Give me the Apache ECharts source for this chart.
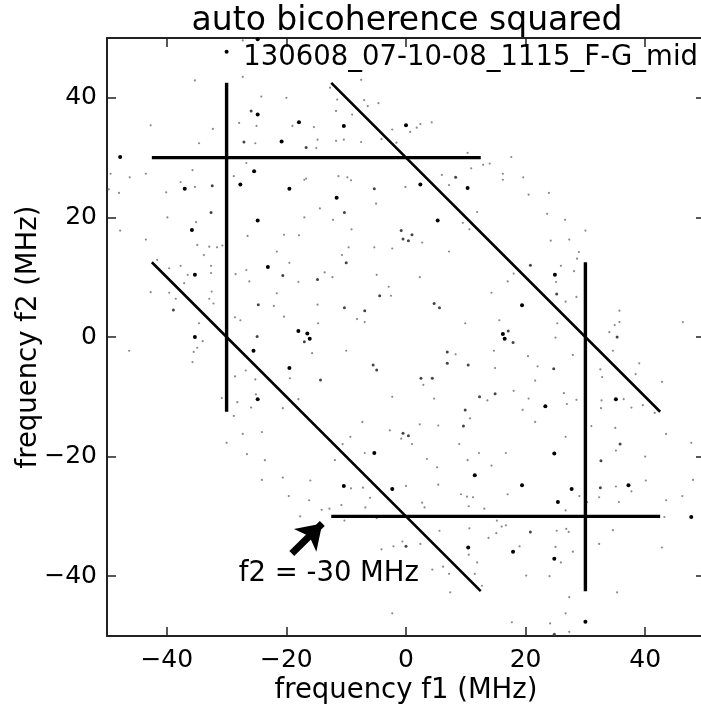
<!DOCTYPE html>
<html>
<head>
<meta charset="utf-8">
<title>auto bicoherence squared</title>
<script src="https://cdn.jsdelivr.net/npm/echarts@6/dist/echarts.min.js"></script>
<style>
  html, body { margin: 0; padding: 0; background: #fff; }
  #chart { width: 701px; height: 705px; }
</style>
</head>
<body>
<div id="chart"></div>
<script>
// ---- data (f1, f2 in MHz) ----
const titleText = 'auto bicoherence squared';
const runLabel = '130608_07-10-08_1115_F-G_mid';
const tickValues = [-40, -20, 0, 20, 40];

// the six ridge segments: endpoints in f1 and in f2
const ridgeF1 = [[-42.5, 12.5], [-30, -30], [-12.5, 42.5], [-42.5, 12.5], [30, 30], [-12.5, 42.5]];
const ridgeF2 = [[30, 30], [42.5, -12.5], [42.5, -12.5], [12.5, -42.5], [12.5, -42.5], [-30, -30]];

// scattered bicoherence points, by strength
const bigDots = [
  [-30.0, 47.7], [-24.8, 37.2], [-17.9, 35.9], [-20.8, 32.7], [-47.8, 30.1], [-37.0, 24.8], [-27.7, 25.5],
  [-25.4, 27.7], [-19.5, 24.8], [-24.8, 19.5], [-35.8, 17.9], [-10.4, 35.3], [0.0, 35.4], [10.3, 24.9],
  [2.4, 25.5], [-11.6, 23.3], [5.3, 19.5], [-35.3, 10.4], [-35.3, 0.0], [-23.1, 11.7], [-18.0, 1.0],
  [-25.5, -2.3], [-19.5, -5.2], [-24.8, -10.4], [-16.5, 0.6], [-16.1, -0.3], [16.2, 0.5], [16.5, -0.3],
  [24.9, 10.4], [19.4, 5.3], [23.3, -11.6], [35.1, -10.4], [-5.3, -19.4], [-10.4, -24.9], [-2.3, -25.4],
  [11.5, -23.1], [10.4, -35.2], [24.8, -19.5], [19.4, -24.8], [27.7, -25.4], [37.2, -24.8], [25.4, -27.6],
  [47.7, -30.1], [17.9, -35.9], [24.8, -37.1], [30.0, -47.6], [-24.8, 49.8]
];
const midDots = [
  [-25.9, 37.8], [-27.1, 32.6], [-32.4, 25.3], [-32.6, 20.8], [-16.7, 31.7], [8.3, 26.7], [-5.3, 24.8],
  [-10.3, 20.8], [-0.8, 17.8], [1.0, 17.1], [-38.9, 4.5], [-24.7, 5.4], [-20.6, 10.3], [-17.0, -0.8],
  [-24.9, 0.1], [-0.5, 16.4], [0.4, 16.1], [-10.0, 12.4], [-14.8, 9.6], [-4.4, 6.9], [-10.3, 4.9],
  [-6.9, 4.4], [4.7, 5.6], [5.6, 4.9], [6.9, -2.5], [-5.5, -4.7], [-4.9, -5.5], [6.9, -4.4], [10.4, -4.7],
  [-14.3, -7.2], [2.5, -6.9], [4.4, -6.9], [12.3, -10.0], [14.9, -9.5], [9.9, -12.2], [9.6, -14.9],
  [-0.5, -16.1], [0.4, -16.5], [20.8, 12.0], [25.2, 7.2], [35.3, 0.0], [17.1, 1.0], [17.9, -0.9],
  [24.7, -5.3], [0.0, -35.0], [35.8, -17.9], [32.6, -20.7], [32.5, -25.2], [20.8, -32.6], [24.8, -49.7]
];
const smallDots = [
  [-35.3, 42.9], [-27.3, 43.5], [-24.2, 40.2], [-20.0, 40.0], [-27.9, 35.8], [-25.0, 35.3], [-42.7, 35.4],
  [-32.3, 34.8], [-19.0, 35.3], [-34.6, 32.4], [-25.2, 32.4], [-49.4, 27.3], [-46.2, 26.7], [-43.5, 27.3],
  [-35.7, 27.9], [-28.8, 26.9], [-26.7, 29.1], [-17.0, 26.3], [-48.0, 24.1], [-40.1, 24.2], [-39.9, 20.0],
  [-35.1, 19.2], [-47.8, 17.8], [-26.5, 16.9], [-20.4, 17.1], [-17.0, 20.0], [-17.9, 17.0], [-27.3, 49.6],
  [-35.3, 25.1], [-37.7, 25.9], [-49.7, 24.7],
  [-7.5, 43.0], [-12.7, 41.7], [-11.5, 39.7], [-7.0, 39.6], [-4.6, 39.1], [-6.4, 38.6], [-11.7, 37.8],
  [-9.0, 37.2], [-15.4, 35.1], [2.4, 35.6], [4.3, 35.9], [1.8, 35.0], [0.7, 34.3], [-2.3, 34.7],
  [-14.8, 33.0], [-15.0, 31.6], [-11.7, 32.8], [-7.5, 32.6], [-4.1, 33.1], [-1.6, 32.5], [-10.4, 33.0],
  [10.3, 30.8], [12.9, 28.8], [14.0, 29.0], [10.9, 28.2], [16.2, 27.3], [6.0, 27.1], [7.2, 25.4],
  [-0.1, 25.1], [-11.3, 26.9], [-9.2, 26.2], [-9.8, 26.7], [-16.7, 26.5], [-5.0, 22.3], [-14.4, 21.5],
  [-12.2, 19.6], [11.9, 20.9], [9.5, 19.1], [10.6, 18.0], [-9.1, 18.0], [16.2, 26.3],
  [17.6, 30.1], [19.6, 26.7], [20.5, 23.8], [23.9, 24.1], [23.6, 20.6], [26.6, 19.6], [30.0, 17.8],
  [-43.5, 16.3], [-34.9, 15.4], [-32.9, 15.1], [-31.6, 15.0], [-30.7, 15.3], [-33.8, 13.7], [-41.6, 12.9],
  [-39.6, 11.5], [-37.7, 11.9], [-36.5, 10.4], [-32.6, 11.9], [-32.6, 10.7], [-37.1, 9.0], [-42.7, 7.5],
  [-39.6, 7.4], [-38.5, 6.4], [-32.5, 7.6], [-32.9, 6.4], [-32.2, 5.6], [-34.6, 2.3], [-34.0, -0.7],
  [-46.3, -2.3], [-34.9, -1.8], [-35.5, -2.5], [-35.7, -4.2], [-28.6, 3.3], [-27.7, 2.8], [-28.5, 10.5],
  [-26.7, 11.2], [-26.2, 9.3], [-21.6, 14.3], [-19.5, 12.4], [-18.0, 9.2], [-21.6, 7.3], [-22.1, 5.2],
  [-20.4, 3.4], [-26.8, -5.6], [-28.6, -6.6], [-25.2, -7.1], [-19.4, -6.9], [-25.1, -9.6], [-30.8, -10.2],
  [-28.2, -10.9], [-25.9, -11.8], [-20.6, -11.9], [-18.0, -10.4], [-28.8, -13.2], [-27.3, -16.2], [-24.1, -15.9],
  [-9.6, 15.0], [-5.3, 15.0], [-2.3, 14.8], [2.7, 15.8], [7.2, 14.3], [-10.7, 13.7], [-13.6, 10.8],
  [-12.3, 10.0], [-4.9, 10.4], [2.3, 10.0], [-2.9, 8.4], [-2.5, 6.9], [14.3, 7.4], [-14.8, 5.4],
  [-8.2, 3.0], [-6.9, 2.5], [-14.7, 2.3], [9.9, 2.3], [15.6, 2.8], [-15.7, -2.7], [-10.0, -2.3],
  [8.3, -2.9], [14.7, -2.3], [14.9, -5.2], [2.9, -8.0], [-2.3, -10.0], [4.7, -10.3], [13.6, -10.6],
  [10.7, -13.6], [-7.3, -14.2], [2.3, -14.6], [5.4, -14.8], [-2.7, -15.6], [-9.3, -16.7],
  [24.2, 16.1], [27.3, 16.3], [28.9, 14.2], [28.6, 13.1], [25.9, 11.9], [28.1, 11.0], [18.0, 10.6],
  [25.1, 9.2], [17.0, 9.3], [28.5, 6.7], [26.7, 5.9], [35.7, 4.4], [35.7, 2.5], [34.9, 2.0], [34.0, 0.8],
  [46.3, 2.5], [25.3, 2.3], [25.0, -0.1], [27.9, -3.0], [34.6, -2.3], [20.4, -3.2], [22.0, -4.9],
  [32.5, -5.4], [32.8, -6.7], [39.0, -4.4], [38.4, -6.2], [42.8, -7.5], [21.6, -7.3], [18.0, -9.0],
  [26.4, -9.4], [20.5, -10.3], [28.5, -10.5], [26.9, -11.2], [32.7, -10.6], [36.4, -10.4], [32.6, -11.9],
  [37.7, -11.8], [39.6, -11.4], [41.6, -12.7], [19.5, -12.2], [21.6, -14.2], [31.0, -14.9], [35.0, -15.2],
  [43.5, -16.2], [26.7, -16.7],
  [-30.0, -17.7], [-26.6, -19.6], [-23.6, -20.6], [-24.1, -23.9], [-20.6, -23.5], [-19.6, -26.6], [-17.7, -30.0],
  [-10.6, -17.9], [-0.8, -17.0], [1.0, -17.9], [-6.9, -19.4], [-11.9, -20.6], [-16.0, -24.0], [-9.2, -25.3],
  [-7.2, -25.2], [0.0, -24.9], [-6.0, -26.9], [-10.8, -28.1], [-16.2, -27.3], [-12.8, -28.7], [-14.1, -28.9],
  [-6.8, -28.5], [2.7, -27.7], [3.1, -28.5], [5.2, -21.8], [3.5, -20.4], [8.9, -17.9], [12.2, -19.4],
  [10.3, -20.6], [14.3, -21.5], [5.4, -24.7], [9.2, -26.3], [10.2, -26.7], [11.2, -26.8], [10.5, -28.3],
  [13.1, -28.7], [15.2, -30.7], [16.0, -31.7], [15.1, -32.8], [13.8, -33.6], [-10.3, -30.7], [-4.9, -30.3],
  [5.6, -32.4], [10.6, -32.0], [-2.1, -35.0], [-0.6, -34.2], [-4.1, -35.5], [2.4, -34.6], [10.5, -36.4],
  [11.9, -37.7], [4.4, -38.9], [6.2, -38.4], [7.2, -39.6], [11.5, -39.6], [12.7, -41.6], [7.4, -42.7],
  [-2.3, -46.2],
  [35.1, -19.0], [47.7, -17.7], [16.7, -19.4], [40.0, -20.0], [40.1, -24.0], [48.0, -23.9], [35.1, -25.0],
  [37.7, -25.8], [17.0, -26.3], [29.0, -26.6], [32.3, -26.8], [35.6, -27.6], [43.5, -27.3], [46.2, -26.6],
  [30.3, -27.6], [26.7, -29.0], [43.2, -30.1], [25.2, -32.4], [26.8, -32.1], [27.2, -32.6], [34.6, -32.3],
  [16.7, -31.5], [32.3, -34.6], [19.0, -35.0], [25.0, -35.1], [27.9, -35.9], [42.8, -35.2], [25.9, -37.7],
  [20.1, -39.9], [24.0, -40.0], [35.3, -42.7], [27.3, -43.5], [26.7, -46.2], [17.7, -47.7], [24.1, -47.9],
  [27.3, -49.3]
];

// annotation: arrow from the label toward the f2 = -30 ridge
const arrowTail = [-19.1, -36.2];
const arrowTip = [-14.0, -31.2];
const noteText = 'f2 = -30 MHz';
const notePos = [-12.9, -39.6];

const FONT = 'DejaVu Sans';
const minus = v => String(v).replace('-', '\u2212');

const chart = echarts.init(document.getElementById('chart'));

// one line series per ridge segment
const ridgeSeries = ridgeF1.map((f1, i) => ({
  type: 'line',
  data: [[f1[0], ridgeF2[i][0]], [f1[1], ridgeF2[i][1]]],
  symbol: 'none',
  silent: true,
  lineStyle: { color: '#000', width: (f1[0] === f1[1] || ridgeF2[i][0] === ridgeF2[i][1]) ? 3.4 : 2.6 },
  z: 3
}));

const dotSeries = (data, size, color) => ({
  type: 'scatter',
  data: data,
  symbol: 'circle',
  symbolSize: size,
  silent: true,
  itemStyle: { color: color, opacity: 1 },
  z: 2
});

const frameAxis = {
  min: -50,
  max: 50,
  type: 'value',
  splitLine: { show: false },
  axisLine: { show: true, onZero: false, lineStyle: { color: '#222', width: 2 } },
  axisTick: { show: true, inside: true, length: 9, customValues: tickValues, lineStyle: { color: '#222', width: 1.5 } }
};

chart.setOption({
  animation: false,
  textStyle: { fontFamily: FONT },
  grid: { left: 107, top: 38, width: 598, height: 598, outerBoundsMode: 'none' },
  graphic: [
    {
      type: 'text', x: 407, y: 21,
      style: { text: titleText, fontSize: 33, fontFamily: FONT, fill: '#000', align: 'center', verticalAlign: 'middle' }
    },
    {
      type: 'text', x: 698, y: 58, z: 10,
      style: { text: runLabel, fontSize: 27.5, fontFamily: FONT, fill: '#000', align: 'right', verticalAlign: 'middle' }
    }
  ],
  xAxis: [
    Object.assign({}, frameAxis, {
      position: 'bottom',
      name: 'frequency f1 (MHz)',
      nameLocation: 'middle',
      nameGap: 41,
      nameMoveOverlap: false,
      nameTextStyle: { fontSize: 27.5, color: '#000', fontFamily: FONT },
      axisLabel: { show: true, customValues: tickValues, fontSize: 25, color: '#000', margin: 12, formatter: minus }
    }),
    Object.assign({}, frameAxis, { position: 'top', axisLabel: { show: false } })
  ],
  yAxis: [
    Object.assign({}, frameAxis, {
      position: 'left',
      name: 'frequency f2 (MHz)',
      nameLocation: 'middle',
      nameGap: 64,
      nameMoveOverlap: false,
      nameTextStyle: { fontSize: 27.5, color: '#000', fontFamily: FONT },
      axisLabel: { show: true, customValues: tickValues, fontSize: 25, color: '#000', margin: 10, formatter: minus }
    }),
    Object.assign({}, frameAxis, { position: 'right', axisLabel: { show: false } })
  ],
  series: [
    dotSeries(smallDots, 2.2, '#8a8a8a'),
    dotSeries(midDots, 3, '#444'),
    dotSeries(bigDots, 4, '#000'),
    ...ridgeSeries,
    {
      type: 'scatter',
      data: [notePos],
      symbolSize: 0,
      silent: true,
      z: 5,
      itemStyle: { color: '#000', opacity: 1 },
      label: {
        show: true, position: 'inside', formatter: noteText,
        fontSize: 27.5, color: '#000', fontFamily: FONT, textBorderWidth: 0
      },
      markLine: {
        silent: true,
        animation: false,
        symbol: ['none', 'arrow'],
        symbolSize: 24,
        label: { show: false },
        itemStyle: { color: '#000' },
        lineStyle: { color: '#000', width: 7, type: 'solid', opacity: 1 },
        data: [[
          { coord: arrowTail, symbol: 'none' },
          { coord: arrowTip, symbol: 'arrow', symbolSize: 24 }
        ]]
      }
    }
  ]
});
</script>
</body>
</html>
